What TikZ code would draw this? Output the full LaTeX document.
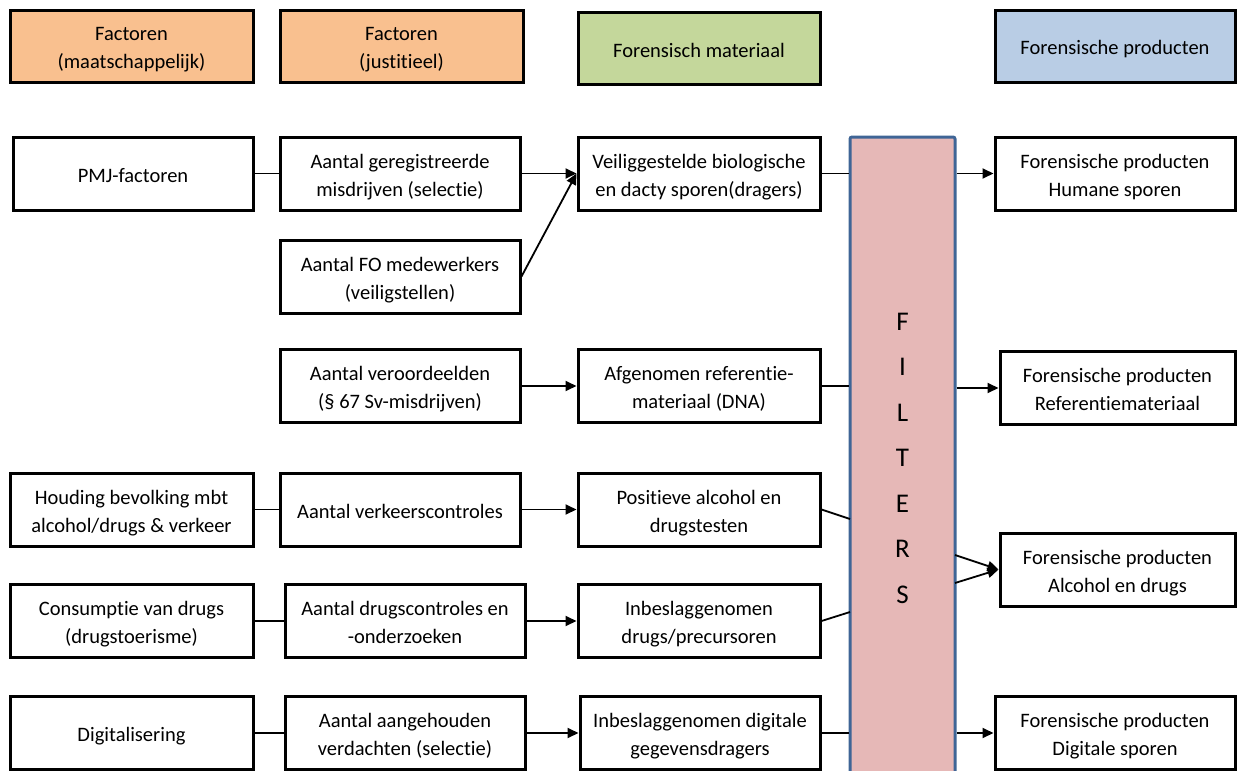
\documentclass[tikz,border=0pt]{standalone}
\usepackage{fontspec}
\setmainfont{Carlito}[Ligatures=NoCommon]
\usetikzlibrary{arrows.meta}
\definecolor{hdrorange}{HTML}{F9C08F}
\definecolor{hdrgreen}{HTML}{C4D79B}
\definecolor{hdrblue}{HTML}{B9CDE5}
\definecolor{filterfill}{HTML}{E6B8B7}
\definecolor{filterdraw}{HTML}{3F6596}
\newcommand{\topstrut}{\rule{0pt}{23pt}}
\newcommand{\botstrut}{\rule[-6pt]{0pt}{0pt}}
\tikzset{
  box/.style={draw=black, line width=3pt, fill=white, minimum width=240pt, minimum height=73pt,
    align=center, inner sep=0pt, font=\fontsize{20.5pt}{28pt}\selectfont},
  hdr/.style={box, minimum width=243pt, minimum height=72pt},
  conn/.style={line width=1.8pt, draw=black},
  arr/.style={conn, -{Triangle[length=11pt,width=10pt]}},
}
\begin{document}
\begin{tikzpicture}[x=1pt,y=-1pt]
\useasboundingbox (0,0) rectangle (1237,771);
% headers
\node[hdr, fill=hdrorange] (h1) at (131.5,46) {\topstrut Factoren\\(maatschappelijk)\botstrut};
\node[hdr, fill=hdrorange] (h2) at (401.5,46) {\topstrut Factoren\\(justitieel)\botstrut};
\node[hdr, fill=hdrgreen, minimum width=242pt] (h3) at (699,48.5) {\topstrut Forensisch materiaal\botstrut};
\node[hdr, fill=hdrblue, minimum width=240pt] (h4) at (1115,46) {\topstrut Forensische producten\botstrut};
% filters
\node[draw=filterdraw, fill=filterfill, line width=3pt, minimum width=105pt, minimum height=650pt,
  align=center, inner sep=0pt, rounded corners=2pt, font=\fontsize{27pt}{45.5pt}\selectfont] (fl) at (902.5,462)
  {\rule{0pt}{10pt}F\\I\\L\\T\\E\\R\\S\rule[-8pt]{0pt}{0pt}};
% row 1
\node[box] (pmj) at (133,173.5) {\topstrut PMJ-factoren\botstrut};
\node[box] (ag) at (400,173.5) {\topstrut Aantal geregistreerde\\misdrijven (selectie)\botstrut};
\node[box] (fo) at (400,276.5) {\topstrut Aantal FO medewerkers\\(veiligstellen)\botstrut};
\node[box, minimum width=242pt] (vb) at (699,173.5) {\topstrut Veiliggestelde biologische\\en dacty sporen(dragers)\botstrut};
\node[box] (fph) at (1115,173.5) {\topstrut Forensische producten\\Humane sporen\botstrut};
% row 2
\node[box] (av) at (400,386) {\topstrut Aantal veroordeelden\\(§ 67 Sv-misdrijven)\botstrut};
\node[box, minimum width=242pt] (af) at (699,386) {\topstrut Afgenomen referentie-\\materiaal (DNA)\botstrut};
\node[box, minimum width=235pt] (fpr) at (1117.5,388) {\topstrut Forensische producten\\Referentiemateriaal\botstrut};
% row 3
\node[box, minimum width=243pt] (hb) at (131.5,509.5) {\topstrut Houding bevolking mbt\\alcohol/drugs \& verkeer\botstrut};
\node[box] (avc) at (400,509.5) {\topstrut Aantal verkeerscontroles\botstrut};
\node[box, minimum width=242pt] (pa) at (699,509.5) {\topstrut Positieve alcohol en\\drugstesten\botstrut};
\node[box, minimum width=235pt] (fpa) at (1117.5,569.5) {\topstrut Forensische producten\\Alcohol en drugs\botstrut};
% row 4
\node[box, minimum width=243pt] (cd) at (131.5,621) {\topstrut Consumptie van drugs\\(drugstoerisme)\botstrut};
\node[box] (adc) at (405,621) {\topstrut Aantal drugscontroles en\\-onderzoeken\botstrut};
\node[box, minimum width=242pt] (id) at (699,621) {\topstrut Inbeslaggenomen\\drugs/precursoren\botstrut};
% row 5
\node[box, minimum width=243pt] (dg) at (131.5,733) {\topstrut Digitalisering\botstrut};
\node[box] (aa) at (405,733) {\topstrut Aantal aangehouden\\verdachten (selectie)\botstrut};
\node[box] (idg) at (700,733) {\topstrut Inbeslaggenomen digitale\\gegevensdragers\botstrut};
\node[box] (fpd) at (1115,733) {\topstrut Forensische producten\\Digitale sporen\botstrut};
% coordinates on the filter box
\coordinate (f3in) at (850,519);
\coordinate (f4in) at (850,612);
\coordinate (f3a) at (955,555);
\coordinate (f3b) at (955,583);
% connectors
\draw[conn] (pmj) -- (ag);
\draw[arr] (ag) -- (vb);
\draw[arr] (fo.east) -- (vb.west);
\draw[conn] (vb.east) -- (vb.east -| fl.west);
\draw[arr] (fl.east |- fph.west) -- (fph.west);
\draw[arr] (av) -- (af);
\draw[conn] (af.east) -- (af.east -| fl.west);
\draw[arr] (fl.east |- fpr.west) -- (fpr.west);
\draw[conn] (hb) -- (avc);
\draw[arr] (avc) -- (pa);
\draw[conn] (pa.east) -- (f3in);
\draw[arr] (f3a) -- (fpa.west);
\draw[arr] (f3b) -- (fpa.west);
\draw[conn] (cd) -- (adc);
\draw[arr] (adc) -- (id);
\draw[conn] (id.east) -- (f4in);
\draw[conn] (dg) -- (aa);
\draw[arr] (aa) -- (idg);
\draw[conn] (idg.east) -- (idg.east -| fl.west);
\draw[arr] (fl.east |- fpd.west) -- (fpd.west);
\end{tikzpicture}
\end{document}
